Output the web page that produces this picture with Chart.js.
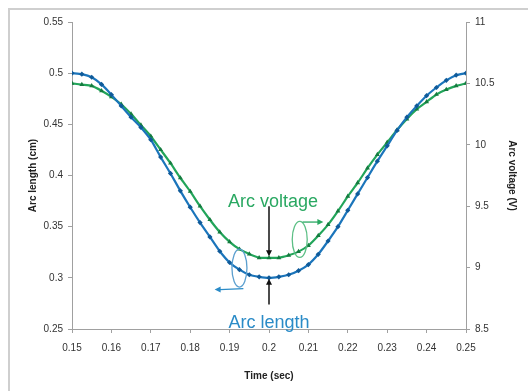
<!DOCTYPE html>
<html>
<head>
<meta charset="utf-8">
<script src="https://cdn.jsdelivr.net/npm/chart.js@4.4.1/dist/chart.umd.min.js"></script>
<style>
  html, body { margin: 0; padding: 0; background: #fff; overflow: hidden; }
  #wrap { position: relative; width: 528px; height: 391px; overflow: hidden; }
  #frame { position: absolute; left: 8px; top: 8px; width: 540px; height: 400px; border-left: 2px solid #cfcfcf; border-top: 2px solid #cfcfcf; border-right: 0; border-bottom: 0; }
  canvas { position: absolute; left: 0; top: 0; }
</style>
</head>
<body>
<div id="wrap">
  <div id="frame"></div>
  <canvas id="c" width="528" height="391"></canvas>
</div>
<script>
const times = [0.15,0.1525,0.155,0.1575,0.16,0.1625,0.165,0.1675,0.17,0.1725,0.175,0.1775,0.18,0.1825,0.185,0.1875,0.19,0.1925,0.195,0.1975,0.2,
  0.2025,0.205,0.2075,0.21,0.2125,0.215,0.2175,0.22,0.2225,0.225,0.2275,0.23,0.2325,0.235,0.2375,0.24,0.2425,0.245,0.2475,0.25];
const arcLength = [0.500,0.499,0.496,0.489,0.479,0.468,0.457,0.447,0.435,0.418,0.402,0.385,0.369,0.354,0.340,0.326,0.315,0.308,0.303,0.301,0.300,
  0.301,0.303,0.307,0.313,0.323,0.336,0.350,0.366,0.382,0.398,0.414,0.429,0.444,0.457,0.468,0.478,0.486,0.493,0.498,0.500];
const arcVoltage = [10.50,10.49,10.48,10.44,10.39,10.33,10.25,10.16,10.07,9.96,9.85,9.73,9.62,9.50,9.39,9.29,9.21,9.15,9.11,9.08,9.08,
  9.08,9.10,9.13,9.18,9.26,9.35,9.46,9.58,9.69,9.81,9.92,10.02,10.12,10.21,10.29,10.35,10.41,10.45,10.48,10.50];
const timeTicks = [0.15,0.16,0.17,0.18,0.19,0.2,0.21,0.22,0.23,0.24,0.25];
const lengthTicks = [0.25,0.3,0.35,0.4,0.45,0.5,0.55];
const voltageTicks = [8.5,9,9.5,10,10.5,11];

const BLUE = '#1b75bb';
const GREEN = '#22a55a';
const tickFont = { family: 'Liberation Sans, Arial, sans-serif', size: 10 };
const titleFont = { family: 'Liberation Sans, Arial, sans-serif', size: 10, weight: 'bold' };

function setTicks(arr) {
  return function(scale) { scale.ticks = arr.map(v => ({ value: v })); };
}

const annot = {
  id: 'annot',
  afterDatasetsDraw(chart) {
    const ctx = chart.ctx;
    const xs = chart.scales.x, ys = chart.scales.y;
    const X = v => xs.getPixelForValue(v);
    const Y = v => ys.getPixelForValue(v);
    function arrowHead(x, y, dx, dy, color) {
      const len = 6, w = 3;
      const L = Math.hypot(dx, dy); const ux = dx / L, uy = dy / L;
      ctx.fillStyle = color;
      ctx.beginPath();
      ctx.moveTo(x, y);
      ctx.lineTo(x - ux * len - uy * w, y - uy * len + ux * w);
      ctx.lineTo(x - ux * len + uy * w, y - uy * len - ux * w);
      ctx.closePath();
      ctx.fill();
    }
    ctx.save();
    ctx.font = '18px "Liberation Sans", Arial, sans-serif';
    ctx.textAlign = 'center';
    ctx.textBaseline = 'middle';
    ctx.fillStyle = '#2aa862';
    ctx.fillText('Arc voltage', X(0.201), Y(0.3745));
    ctx.fillStyle = '#2a8bc7';
    ctx.fillText('Arc length', X(0.2), Y(0.2555));
    const xa = X(0.2);
    ctx.strokeStyle = '#111'; ctx.lineWidth = 1.5;
    ctx.beginPath(); ctx.moveTo(xa, Y(0.37)); ctx.lineTo(xa, Y(0.323)); ctx.stroke();
    arrowHead(xa, Y(0.321), 0, 1, '#111');
    ctx.beginPath(); ctx.moveTo(xa, Y(0.274)); ctx.lineTo(xa, Y(0.297)); ctx.stroke();
    arrowHead(xa, Y(0.299), 0, -1, '#111');
    ctx.strokeStyle = '#5b9fcf'; ctx.lineWidth = 1.3;
    ctx.beginPath(); ctx.ellipse(X(0.1925), Y(0.3095), 7.5, 19, 0, 0, Math.PI * 2); ctx.stroke();
    ctx.strokeStyle = '#2a8bc7';
    ctx.beginPath(); ctx.moveTo(X(0.1935), Y(0.2895)); ctx.lineTo(X(0.1875), Y(0.2885)); ctx.stroke();
    arrowHead(X(0.1862), Y(0.2885), -1, 0, '#2a8bc7');
    ctx.strokeStyle = '#5cbf85';
    ctx.beginPath(); ctx.ellipse(X(0.2078), Y(0.3375), 7.5, 18, 0, 0, Math.PI * 2); ctx.stroke();
    ctx.strokeStyle = '#2aa862';
    ctx.beginPath(); ctx.moveTo(X(0.2085), Y(0.3545)); ctx.lineTo(X(0.2125), Y(0.3545)); ctx.stroke();
    arrowHead(X(0.2138), Y(0.3545), 1, 0, '#2aa862');
    ctx.restore();
  }
};

new Chart(document.getElementById('c'), {
  type: 'line',
  data: {
    datasets: [
      {
        label: 'Arc length',
        data: times.map((t, i) => ({ x: t, y: arcLength[i] })),
        borderColor: BLUE, backgroundColor: '#0f5a99',
        borderWidth: 2.2, pointStyle: 'rectRot', pointRadius: 2.6, pointBorderWidth: 0,
        tension: 0.2, yAxisID: 'y'
      },
      {
        label: 'Arc voltage',
        data: times.map((t, i) => ({ x: t, y: arcVoltage[i] })),
        borderColor: GREEN, backgroundColor: '#157a3f',
        borderWidth: 2.2, pointStyle: 'triangle', pointRadius: 2.8, pointBorderWidth: 0,
        tension: 0.2, yAxisID: 'y2'
      }
    ]
  },
  options: {
    responsive: false,
    animation: false,
    events: [],
    layout: { padding: { top: 22, left: 0, right: 0, bottom: 0 } },
    plugins: { legend: { display: false }, tooltip: { enabled: false } },
    scales: {
      x: {
        type: 'linear', min: 0.15, max: 0.25,
        afterBuildTicks: setTicks(timeTicks),
        afterFit: s => { s.height = 62; },
        grid: { drawOnChartArea: false, drawTicks: true, tickLength: 4, color: '#a0a0a0' },
        border: { display: true, color: '#a0a0a0', width: 1 },
        ticks: { font: tickFont, color: '#333', padding: 9, maxRotation: 0,
          callback: v => String(Number(v.toFixed(4))) },
        title: { display: true, text: 'Time (sec)', font: titleFont, color: '#222', padding: { top: 0, bottom: 9 } }
      },
      y: {
        type: 'linear', position: 'left', min: 0.25, max: 0.55,
        afterBuildTicks: setTicks(lengthTicks),
        afterFit: s => { s.width = 72; },
        grid: { drawOnChartArea: false, drawTicks: true, tickLength: 4, color: '#a0a0a0' },
        border: { display: true, color: '#a0a0a0', width: 1 },
        ticks: { font: tickFont, color: '#333', padding: 5,
          callback: v => String(Number(v.toFixed(4))) },
        title: { display: true, text: 'Arc length (cm)', font: titleFont, color: '#222', padding: { top: 27, bottom: 0 } }
      },
      y2: {
        type: 'linear', position: 'right', min: 8.5, max: 11,
        afterBuildTicks: setTicks(voltageTicks),
        afterFit: s => { s.width = 62; },
        grid: { drawOnChartArea: false, drawTicks: true, tickLength: 4, color: '#a0a0a0' },
        border: { display: true, color: '#a0a0a0', width: 1 },
        ticks: { font: tickFont, color: '#333', padding: 5,
          callback: v => String(Number(v.toFixed(4))) },
        title: { display: true, text: 'Arc voltage (V)', font: titleFont, color: '#222', padding: { top: 10, bottom: 0 } }
      }
    }
  },
  plugins: [annot]
});
</script>
</body>
</html>
